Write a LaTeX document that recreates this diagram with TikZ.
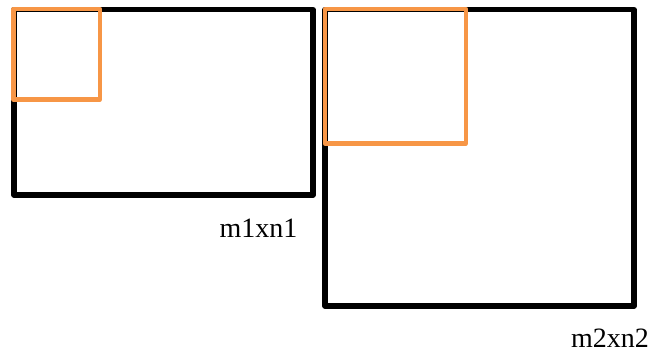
\documentclass[tikz,border=0pt]{standalone}
\usepackage{fontspec}
\setmainfont{Liberation Serif}
\definecolor{blockorange}{RGB}{247,150,70}
\tikzset{every picture/.style={line width=0.75pt}}
\tikzset{
  matrixbox/.style={draw=black, line width=4pt, line join=round},
  blockbox/.style={draw=blockorange, line width=3.2pt, line join=round},
  sizelabel/.style={inner sep=0.75pt, font=\fontsize{21}{25}\selectfont}
}
\begin{document}
\begin{tikzpicture}[x=0.75pt,y=0.75pt,yscale=-1,xscale=1]
    \useasboundingbox (0,0) rectangle (662,353);

    %Matrix 1 with its block
    \draw [matrixbox] (14,9.5) rectangle (313,195) ;
    \draw [blockbox] (13.5,9) rectangle (100,99.5) ;
    % Text Node
    \node [sizelabel] (lbl1) at (258.5,228) {m1xn1};

    %Matrix 2 with its block
    \draw [matrixbox] (325,9.5) rectangle (634,306) ;
    \draw [blockbox] (325,9) rectangle (466,143.5) ;
    % Text Node
    \node [sizelabel] (lbl2) at (610,338.5) {m2xn2};
\end{tikzpicture}
\end{document}
